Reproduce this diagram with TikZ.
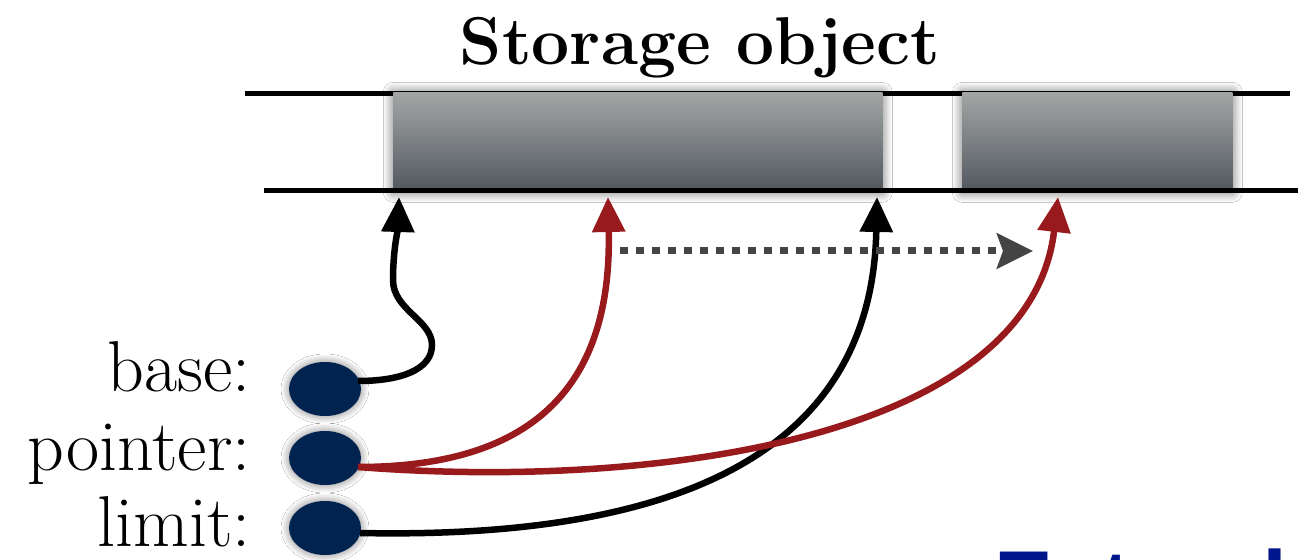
\documentclass[tikz,border=0pt]{standalone}
\usepackage{fontspec}
\newfontfamily\bluefont{Liberation Sans}
\usetikzlibrary{arrows.meta,shapes.geometric,shadows.blur}

\definecolor{slotTop}{RGB}{162,166,165}
\definecolor{slotBot}{RGB}{82,87,95}
\definecolor{navy}{RGB}{0,35,80}
\definecolor{ptrred}{RGB}{152,26,28}
\definecolor{dotgray}{RGB}{68,68,68}
\definecolor{headblue}{RGB}{0,22,140}

\tikzset{
  rail/.style={line width=0.1cm, black},
  slot/.style={rectangle, inner sep=0pt, draw=none,
    top color=slotTop, bottom color=slotBot,
    blur shadow={shadow blur radius=0.2cm, shadow opacity=60,
      shadow xshift=0pt, shadow yshift=0pt, shadow blur steps=20}},
  reg/.style={ellipse, inner sep=0pt, minimum width=1.44cm, minimum height=1.08cm,
    fill=navy, draw=none,
    blur shadow={shadow blur radius=0.16cm, shadow opacity=50,
      shadow xshift=0pt, shadow yshift=0pt, shadow blur steps=20}},
  regname/.style={anchor=base east, inner sep=0pt, font=\fontsize{41}{44}\selectfont},
  link/.style={line width=0.13cm, -{Triangle[length=0.7cm, width=0.64cm]}},
  advance/.style={line width=0.14cm, dotgray, dash pattern=on 0.16cm off 0.16cm,
    -{Stealth[length=0.72cm, width=0.7cm, inset=0.12cm]}},
}

\begin{document}
\begin{tikzpicture}[x=0.02cm, y=-0.02cm]
  \clip (0,0) rectangle (1298,560);
  \fill[white] (0,0) rectangle (1298,560);

  % heading
  \node[anchor=base, inner sep=0pt, font=\fontsize{38.5}{42}\selectfont\bfseries]
    (title) at (700,65) {Storage object};

  % storage rails and allocated slots
  \draw[rail] (245,94) -- (1290,94);
  \node[slot, minimum width=9.78cm, minimum height=2.0cm, anchor=north west]
    (slotA) at (393,92) {};
  \node[slot, minimum width=5.4cm, minimum height=2.0cm, anchor=north west]
    (slotB) at (962,92) {};
  \draw[rail, line width=0.11cm] (264,190.5) -- (1298,190.5);

  % register contents
  \node[reg] (rb) at (325,389) {};
  \node[reg] (rp) at (325,458) {};
  \node[reg] (rl) at (325,528) {};
  \node[regname] (nb) at (251,392) {base:};
  \node[regname] (np) at (251,470) {pointer:};
  \node[regname] (nl) at (251,546) {limit:};

  % targets below the slots
  \coordinate (tb) at (399,197);
  \coordinate (tp) at (608,197);
  \coordinate (tl) at (877,197);
  \coordinate (tq) at (1058,197);
  \coordinate (pb) at (358,381);
  \coordinate (pp) at (358,467);
  \coordinate (pl) at (360,533);

  % links
  \draw[link] (pb) .. controls (400,381) and (432,370) .. (432,345)
    .. controls (432,320) and (393,310) .. (393,280)
    .. controls (393,250) and (398,228) .. (tb);
  \draw[link, ptrred] (pp) .. controls (540,467) and (612,380) .. (tp);
  \draw[link] (pl) .. controls (700,540) and (872,440) .. (tl);
  \draw[link, ptrred] (pp) .. controls (650,490) and (1030,440) .. (tq);

  % pointer advance
  \coordinate (da) at (620,251);
  \coordinate (db) at (1033,251);
  \draw[advance] (da) -- (db);

  % heading below, running off the frame
  \node[anchor=base west, inner sep=0pt, text=headblue,
    font=\bluefont\bfseries\fontsize{50}{54}\selectfont] (next) at (994,612) {Extend};
\end{tikzpicture}
\end{document}
